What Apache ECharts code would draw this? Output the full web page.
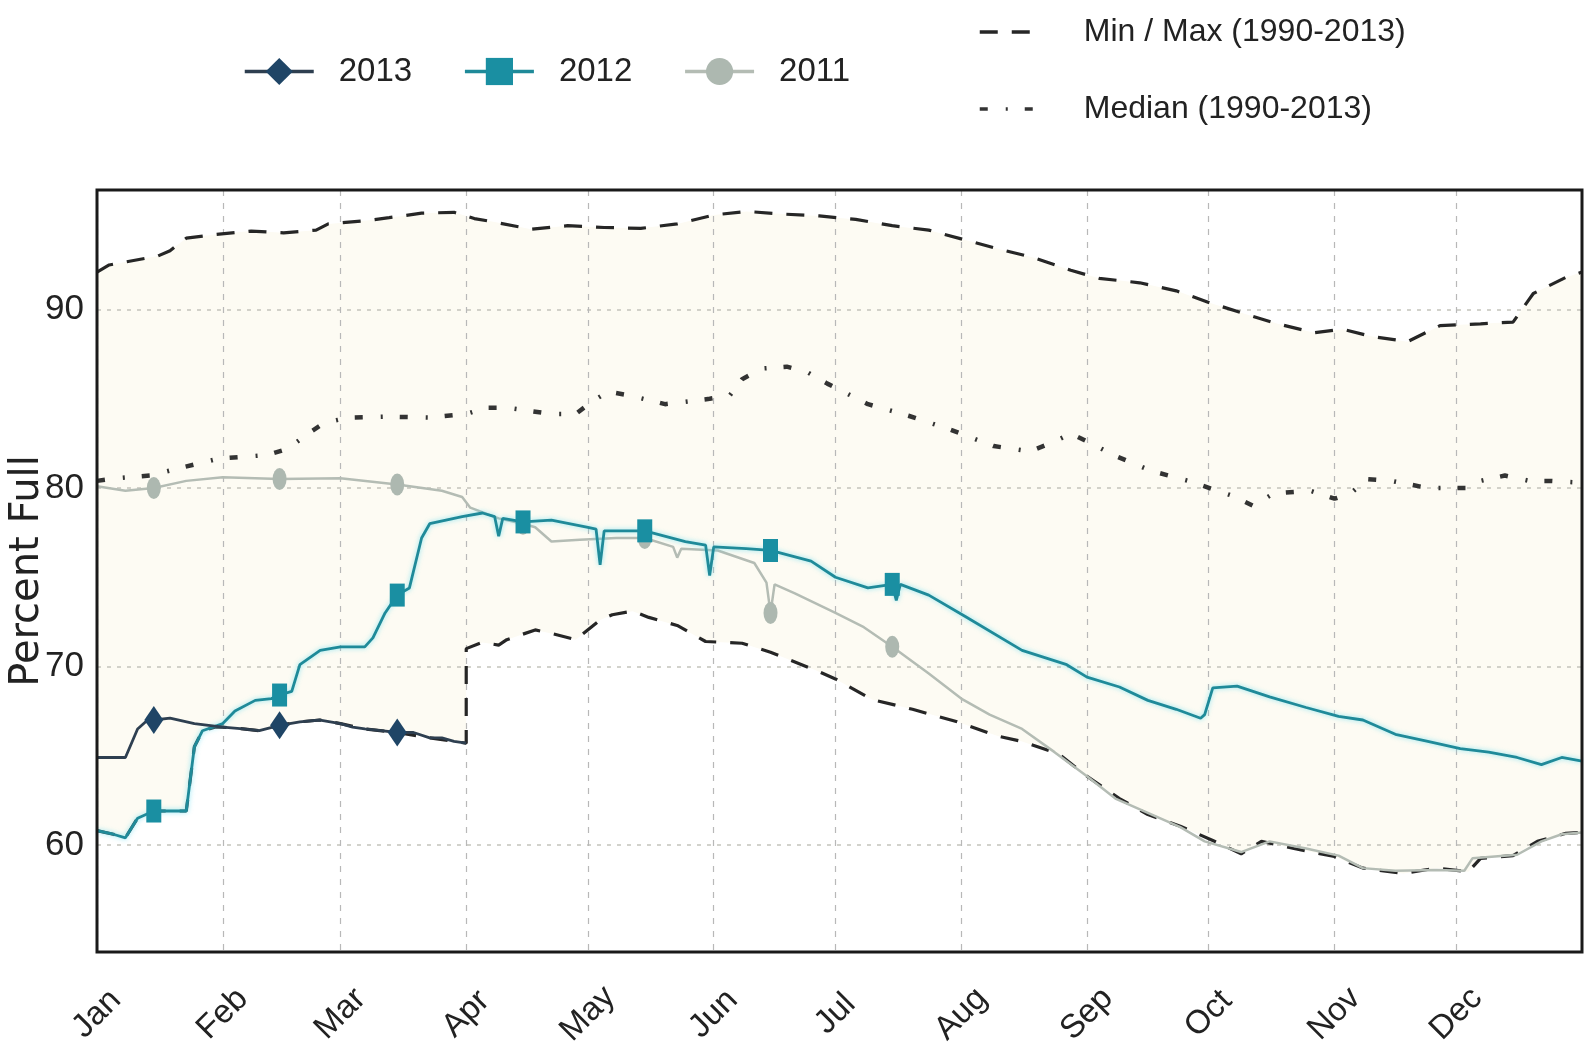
<!DOCTYPE html>
<html>
<head>
<meta charset="utf-8">
<title>Percent Full</title>
<script src="https://cdn.jsdelivr.net/npm/echarts@6/dist/echarts.min.js"></script>
<style>
html, body { margin: 0; padding: 0; background: #fff; }
#chart { width: 1585px; height: 1044px; }
</style>
</head>
<body>
<div id="chart"></div>
<script>
// x = day of year (0 = Jan 1, leap-year axis), y = percent full
const monthNames = ['Jan', 'Feb', 'Mar', 'Apr', 'May', 'Jun', 'Jul', 'Aug', 'Sep', 'Oct', 'Nov', 'Dec']
const monthStarts = [0, 31, 60, 91, 121, 152, 182, 213, 244, 274, 305, 335]
const markerDays = [14, 45, 74, 105, 135, 166, 196, 227, 258, 288, 319, 349]

const y2013 = [[0, 64.9], [7, 64.9], [10, 66.5], [12, 66.9], [14, 67.0], [18, 67.1], [24, 66.8], [31, 66.6],
  [36, 66.5], [40, 66.4], [45, 66.7], [50, 66.9], [55, 67.0], [60, 66.8], [63, 66.6], [66, 66.5], [70, 66.4],
  [74, 66.3], [78, 66.3], [82, 66.0], [85, 66.0], [88, 65.8], [91, 65.7]]

const y2012 = [[0, 60.8], [4, 60.6], [7, 60.4], [10, 61.5], [14, 61.9], [22, 61.9], [24, 65.5], [26, 66.4],
  [31, 66.8], [34, 67.5], [39, 68.1], [43, 68.2], [45, 68.4], [48, 68.6], [50, 70.1], [55, 70.9], [60, 71.1],
  [66, 71.1], [68, 71.6], [71, 73.0], [74, 74.0], [77, 74.4], [80, 77.2], [82, 78.0], [90, 78.4], [95, 78.6],
  [98, 78.4], [99, 77.3], [100, 78.3], [105, 78.1], [112, 78.2], [121, 77.8], [123, 77.7], [124, 75.7],
  [125, 77.6], [135, 77.6], [145, 77.0], [150, 76.8], [151, 75.1], [152, 76.7], [160, 76.6], [166, 76.5],
  [176, 75.9], [182, 75.0], [190, 74.4], [196, 74.6], [197, 73.7], [198, 74.6], [205, 74.0], [214, 72.8],
  [228, 70.9], [239, 70.1], [244, 69.4], [252, 68.85], [259, 68.1], [266, 67.6], [272, 67.1], [273, 67.3],
  [275, 68.8], [281, 68.9], [289, 68.3], [298, 67.7], [306, 67.2], [312, 67.0], [320, 66.2], [328, 65.8],
  [336, 65.4], [343, 65.2], [350, 64.9], [356, 64.5], [361, 64.9], [366, 64.7]]

const y2011 = [[0, 80.1], [7, 79.85], [14, 80.0], [22, 80.4], [31, 80.6], [45, 80.5], [60, 80.55], [74, 80.2],
  [85, 79.85], [90, 79.5], [92, 78.9], [99, 78.3], [105, 78.0], [108, 77.8], [112, 77.0], [119, 77.1],
  [128, 77.2], [135, 77.2], [142, 76.7], [143, 76.1], [144, 76.6], [153, 76.5], [162, 75.8], [165, 74.7],
  [166, 73.0], [167, 74.6], [172, 74.1], [182, 73.0], [189, 72.2], [196, 71.1], [205, 69.6], [213, 68.2],
  [220, 67.3], [228, 66.5], [236, 65.2], [244, 63.85], [251, 62.6], [259, 61.8], [267, 61.0], [273, 60.2],
  [282, 59.6], [289, 60.2], [298, 59.8], [306, 59.4], [312, 58.7], [320, 58.55], [330, 58.6], [337, 58.55],
  [339, 59.25], [350, 59.45], [356, 60.2], [361, 60.6], [366, 60.7]]

const maxLine = [[0, 92.1], [3, 92.5], [15, 93.0], [18, 93.3], [22, 94.0], [29, 94.2], [38, 94.4], [46, 94.3],
  [54, 94.45], [57, 94.8], [67, 95.0], [72, 95.15], [80, 95.4], [88, 95.45], [93, 95.1], [98, 94.9],
  [107, 94.5], [116, 94.7], [125, 94.6], [134, 94.55], [143, 94.8], [152, 95.3], [160, 95.5], [169, 95.35],
  [178, 95.25], [187, 95.05], [196, 94.7], [205, 94.45], [214, 93.9], [223, 93.35], [231, 92.9], [240, 92.2],
  [247, 91.75], [257, 91.5], [266, 91.05], [274, 90.4], [283, 89.75], [291, 89.2], [300, 88.7], [307, 88.9],
  [314, 88.5], [323, 88.2], [331, 89.1], [341, 89.2], [349, 89.3], [354, 90.9], [362, 91.8], [366, 92.1]]

const medianLine = [[0, 80.4], [5, 80.55], [13, 80.7], [21, 81.15], [30, 81.65], [42, 81.85], [47, 82.2],
  [52, 83.05], [56, 83.65], [62, 83.95], [71, 84.0], [82, 83.95], [91, 84.15], [96, 84.5], [101, 84.5],
  [112, 84.15], [118, 84.15], [122, 84.85], [126, 85.4], [131, 85.2], [140, 84.7], [151, 85.0], [156, 85.2],
  [159, 86.1], [164, 86.7], [170, 86.8], [175, 86.5], [180, 85.85], [190, 84.7], [200, 84.05], [210, 83.3],
  [221, 82.35], [230, 82.05], [236, 82.6], [240, 83.05], [245, 82.5], [251, 81.8], [260, 80.95], [269, 80.4],
  [280, 79.55], [285, 79.0], [290, 79.7], [299, 79.85], [305, 79.4], [309, 79.7], [313, 80.5], [319, 80.4],
  [328, 80.0], [338, 80.0], [341, 80.4], [347, 80.7], [353, 80.4], [358, 80.4], [366, 80.3]]

const minLine = [[0, 60.8], [4, 60.6], [7, 60.4], [10, 61.5], [14, 61.9], [22, 61.9], [24, 65.5], [26, 66.4],
  [29, 66.6], [31, 66.6], [36, 66.5], [40, 66.4], [45, 66.7], [50, 66.9], [55, 67.0], [60, 66.8], [66, 66.5],
  [74, 66.3], [82, 66.0], [88, 65.8], [91, 65.7], [91, 71.0], [95, 71.35], [99, 71.2], [101, 71.5],
  [108, 72.05], [112, 71.85], [118, 71.5], [124, 72.6], [127, 72.9], [132, 73.1], [136, 72.75], [143, 72.3],
  [150, 71.4], [159, 71.3], [166, 70.8], [177, 69.8], [182, 69.3], [191, 68.15], [201, 67.6], [212, 66.9],
  [222, 66.1], [228, 65.8], [237, 65.1], [244, 63.85], [252, 62.6], [259, 61.7], [267, 61.05], [275, 60.25],
  [282, 59.5], [287, 60.2], [295, 59.8], [305, 59.35], [312, 58.7], [322, 58.4], [330, 58.7], [338, 58.5],
  [341, 59.25], [349, 59.4], [355, 60.2], [362, 60.65], [366, 60.7]]

const narrow = "'Liberation Sans', Arial, sans-serif"
const rangeName = 'Min / Max (1990-2013)'
const medianName = 'Median (1990-2013)'

// one category per day of 2012 plus Jan 1 of the next year
const dayLabels = []
for (let i = 0; i <= 366; i++) {
  const d = new Date(Date.UTC(2012, 0, 1 + i))
  dayLabels.push(d.toISOString().slice(0, 10))
}

// only the 15th of each month gets a marker
function markEvery15th (points) {
  return points.map(function (p) {
    return markerDays.indexOf(p[0]) >= 0 ? p : { value: p, symbol: 'none' }
  })
}

function isMonthStart (index) {
  return monthStarts.indexOf(index) >= 0
}

const chart = echarts.init(document.getElementById('chart'))
chart.setOption({
  animation: false,
  backgroundColor: '#fff',
  legend: [{
    data: ['2013', '2012', '2011'],
    left: 238,
    top: 50,
    itemWidth: 69,
    itemHeight: 34,
    itemGap: 51,
    lineStyle: { width: 3.5 },
    textStyle: { fontFamily: narrow, fontSize: 33, color: '#222', padding: [0, 0, 0, 20] }
  }, {
    data: [rangeName, medianName],
    orient: 'vertical',
    left: 973,
    top: 11,
    itemWidth: 55,
    itemHeight: 30,
    itemGap: 45,
    itemStyle: { opacity: 0 },
    lineStyle: { width: 3.5 },
    textStyle: { fontFamily: narrow, fontSize: 32, color: '#222', padding: [0, 0, 0, 44] }
  }],
  grid: {
    left: 97,
    right: 3,
    top: 190,
    bottom: 92,
    show: true,
    z: 10,
    outerBoundsMode: 'none',
    borderColor: '#1a1a1a',
    borderWidth: 3
  },
  xAxis: {
    type: 'category',
    data: dayLabels,
    boundaryGap: false,
    axisLine: { show: false },
    axisTick: { show: false },
    axisLabel: {
      interval: isMonthStart,
      formatter: function (value, index) { return monthNames[monthStarts.indexOf(index)] },
      rotate: 45,
      align: 'center',
      verticalAlign: 'middle',
      margin: 62,
      fontFamily: narrow,
      fontSize: 33,
      color: '#222'
    },
    splitLine: {
      show: true,
      interval: isMonthStart,
      lineStyle: { color: '#b8b8b8', width: 1.2, type: [6, 7] }
    }
  },
  yAxis: {
    type: 'value',
    min: 54,
    max: 96.7,
    splitNumber: 4,
    name: 'Percent Full',
    nameLocation: 'middle',
    nameRotate: 90,
    nameGap: 49,
    nameMoveOverlap: false,
    nameTextStyle: { fontFamily: 'DejaVu Sans', fontSize: 40, color: '#222' },
    axisLine: { show: false },
    axisTick: { show: false },
    axisLabel: {
      showMinLabel: false,
      showMaxLabel: false,
      margin: 13,
      fontFamily: narrow,
      fontSize: 35,
      color: '#222'
    },
    splitLine: { lineStyle: { color: '#c4c4bc', width: 1.6, type: [4, 6] } }
  },
  series: [
    // cream band between min and max, drawn under the grid lines
    {
      name: 'maxFill',
      type: 'line',
      data: maxLine,
      symbol: 'none',
      silent: true,
      z: -2,
      lineStyle: { width: 0 },
      areaStyle: { color: '#fdfbf3', opacity: 1, origin: 'start' }
    },
    {
      name: 'minFill',
      type: 'line',
      data: minLine,
      symbol: 'none',
      silent: true,
      z: -1,
      lineStyle: { width: 0 },
      areaStyle: { color: '#ffffff', opacity: 1, origin: 'start' }
    },
    {
      name: rangeName,
      type: 'line',
      data: maxLine,
      symbol: 'none',
      z: 2,
      itemStyle: { color: '#262626' },
      lineStyle: { color: '#262626', width: 3.2, type: [18, 14] }
    },
    {
      name: rangeName,
      type: 'line',
      data: minLine,
      symbol: 'none',
      z: 2,
      itemStyle: { color: '#262626' },
      lineStyle: { color: '#262626', width: 3.2, type: [18, 14] }
    },
    {
      name: medianName,
      type: 'line',
      data: medianLine,
      symbol: 'none',
      z: 2,
      itemStyle: { color: '#333' },
      lineStyle: { color: '#333', width: 4.5, type: [8, 18, 2, 17] }
    },
    {
      name: '2011',
      type: 'line',
      data: markEvery15th(y2011),
      symbol: 'circle',
      symbolSize: [14, 22],
      showAllSymbol: true,
      z: 3,
      itemStyle: { color: '#adb8b0' },
      lineStyle: { color: '#b4bcb4', width: 2.5 }
    },
    {
      name: '2012',
      type: 'line',
      data: markEvery15th(y2012),
      symbol: 'rect',
      symbolSize: [15, 23],
      showAllSymbol: true,
      z: 4,
      itemStyle: { color: '#1a8fa2' },
      lineStyle: { color: '#1f8a99', width: 2.8, shadowColor: 'rgba(90, 220, 240, 0.7)', shadowBlur: 5 }
    },
    {
      name: '2013',
      type: 'line',
      data: markEvery15th(y2013),
      symbol: 'diamond',
      symbolSize: [19, 28],
      showAllSymbol: true,
      z: 5,
      itemStyle: { color: '#1f4566' },
      lineStyle: { color: '#2e3f50', width: 2.8 }
    }
  ]
})
</script>
</body>
</html>
